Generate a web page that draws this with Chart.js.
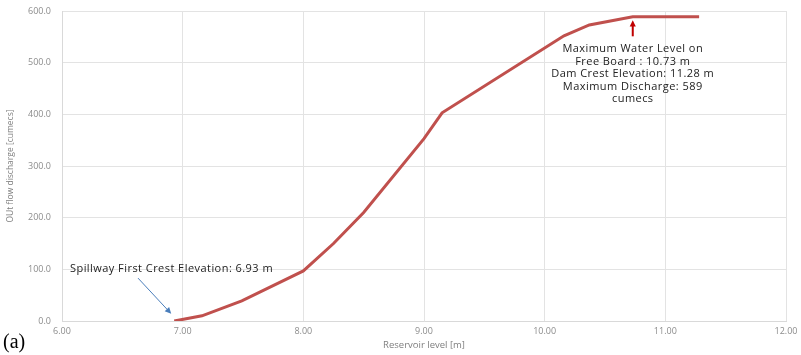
<!DOCTYPE html>
<html>
<head>
<meta charset="utf-8">
<script src="https://cdn.jsdelivr.net/npm/chart.js@4/dist/chart.umd.min.js"></script>
<style>
  html, body { margin: 0; padding: 0; background: #ffffff; }
  #wrap { position: relative; width: 801px; height: 355px; }
</style>
</head>
<body>
<div id="wrap"><canvas id="c" width="801" height="355"></canvas></div>
<script>
// Reservoir level (m) vs. outflow discharge (cumecs)
const reservoirLevels = [6.93, 7.16, 7.49, 8.00, 8.25, 8.50, 9.00, 9.15, 10.16, 10.37, 10.73, 11.28];
const outflowDischarge = [0, 10, 39, 97, 150, 210, 353, 403, 552, 573, 589, 589];

const xTicks = [6, 7, 8, 9, 10, 11, 12];
const yTicks = [0, 100, 200, 300, 400, 500, 600];

const spillwayCrest = 6.93;
const maxWaterLevel = 10.73;
const damCrest = 11.28;
const maxDischarge = 589;

const spillwayLabel = 'Spillway First Crest Elevation: ' + spillwayCrest.toFixed(2) + ' m';
const maxLabelLines = [
  'Maximum Water Level on',
  'Free Board : ' + maxWaterLevel.toFixed(2) + ' m',
  'Dam Crest Elevation: ' + damCrest.toFixed(2) + ' m',
  'Maximum Discharge: ' + maxDischarge,
  'cumecs'
];

const points = reservoirLevels.map((lv, i) => ({ x: lv, y: outflowDischarge[i] }));

const FAMILY = '"Open Sans", Lato, sans-serif';
const tickFont = { family: FAMILY, size: 9 };
const noteFont = '11px ' + FAMILY;

function arrow(ctx, x1, y1, x2, y2, color, width, head) {
  const a = Math.atan2(y2 - y1, x2 - x1);
  ctx.save();
  ctx.strokeStyle = color;
  ctx.fillStyle = color;
  ctx.lineWidth = width;
  ctx.beginPath();
  ctx.moveTo(x1, y1);
  ctx.lineTo(x2 - Math.cos(a) * head * 0.8, y2 - Math.sin(a) * head * 0.8);
  ctx.stroke();
  ctx.beginPath();
  ctx.moveTo(x2, y2);
  ctx.lineTo(x2 - head * Math.cos(a - 0.45), y2 - head * Math.sin(a - 0.45));
  ctx.lineTo(x2 - head * Math.cos(a + 0.45), y2 - head * Math.sin(a + 0.45));
  ctx.closePath();
  ctx.fill();
  ctx.restore();
}

// Callout notes and arrows, placed in data units through the chart's scales
const notes = {
  id: 'notes',
  afterDatasetsDraw(chart) {
    const { ctx, scales: { x, y } } = chart;
    ctx.save();
    ctx.font = noteFont;
    ctx.letterSpacing = '0.45px';
    ctx.fillStyle = '#222222';
    ctx.textBaseline = 'middle';

    // spillway crest note
    ctx.textAlign = 'left';
    ctx.fillText(spillwayLabel, x.getPixelForValue(6.066), y.getPixelForValue(100.5));
    arrow(ctx,
      x.getPixelForValue(6.63), y.getPixelForValue(83),
      x.getPixelForValue(6.905), y.getPixelForValue(14),
      '#4a7ebb', 1, 7);

    // maximum level note
    const cx = x.getPixelForValue(maxWaterLevel);
    ctx.textAlign = 'center';
    const top = y.getPixelForValue(526);
    maxLabelLines.forEach((t, i) => ctx.fillText(t, cx, top + i * 12.4));
    arrow(ctx,
      cx, y.getPixelForValue(551),
      cx, y.getPixelForValue(582),
      '#c00000', 2, 7);

    // panel letter
    ctx.letterSpacing = '0px';
    ctx.fillStyle = '#000000';
    ctx.font = '20px "Liberation Serif", "DejaVu Serif", serif';
    ctx.textAlign = 'left';
    ctx.fillText('(a)', 3, 343);
    ctx.restore();
  }
};

new Chart(document.getElementById('c'), {
  type: 'line',
  data: {
    datasets: [{
      data: points,
      borderColor: '#c0504d',
      borderWidth: 3,
      pointRadius: 0,
      tension: 0,
      fill: false
    }]
  },
  options: {
    responsive: false,
    animation: false,
    layout: { padding: { left: 0, right: 15, top: 11, bottom: 0 } },
    plugins: { legend: { display: false }, tooltip: { enabled: false } },
    scales: {
      x: {
        type: 'linear',
        min: xTicks[0],
        max: xTicks[xTicks.length - 1],
        afterBuildTicks: s => { s.ticks = xTicks.map(v => ({ value: v })); },
        afterFit: s => { s.height = 34; s.paddingLeft = 0; s.paddingRight = 0; },
        grid: { color: '#e3e3e3', drawTicks: false },
        border: { color: '#d9d9d9' },
        ticks: {
          padding: 5,
          color: '#8c8c8c',
          font: tickFont,
          maxRotation: 0,
          callback: v => Number(v).toFixed(2)
        },
        title: {
          display: true,
          text: 'Reservoir level [m]',
          color: '#7f7f7f',
          font: { family: FAMILY, size: 9.5 },
          padding: { top: 0, bottom: 4 }
        }
      },
      y: {
        min: yTicks[0],
        max: yTicks[yTicks.length - 1],
        afterBuildTicks: s => { s.ticks = yTicks.map(v => ({ value: v })); },
        afterFit: s => { s.width = 62; s.paddingTop = 0; s.paddingBottom = 0; },
        grid: { color: '#e3e3e3', drawTicks: false },
        border: { color: '#d9d9d9' },
        ticks: {
          padding: 11,
          color: '#8c8c8c',
          font: tickFont,
          callback: v => Number(v).toFixed(1)
        },
        title: {
          display: true,
          text: 'OUt flow discharge [cumecs]',
          color: '#7f7f7f',
          font: { family: FAMILY, size: 8.5 },
          padding: { top: 5, bottom: 0 }
        }
      }
    }
  },
  plugins: [notes]
});
</script>
</body>
</html>
